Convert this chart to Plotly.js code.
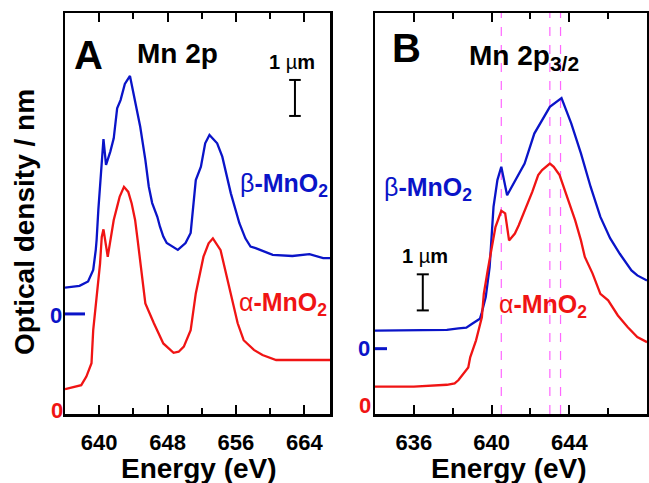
<!DOCTYPE html>
<html>
<head>
<meta charset="utf-8">
<script src="https://cdn.plot.ly/plotly-3.0.1.min.js"></script>
<style>html,body{margin:0;padding:0;background:#fff;}</style>
</head>
<body>
<div id="chart" style="width:649px;height:483px;"></div>
<script>
// ---- Panel A: Mn 2p ----
const energyA_beta = [636.0, 637.7, 638.7, 639.3, 639.6, 639.7, 639.9, 640.2, 640.5, 640.8, 641.3, 641.7, 642.1, 642.5, 643.0, 643.6, 644.1, 644.8, 645.4, 645.8, 646.2, 646.8, 647.1, 647.5, 647.9, 649.2, 650.1, 650.7, 651.3, 651.9, 652.4, 652.9, 653.8, 654.4, 655.4, 656.4, 657.1, 657.7, 658.3, 660.3, 662.6, 664.6, 666.2, 667.0];
const odA_beta = [0.73, 0.78, 0.90, 1.22, 1.78, 2.06, 2.89, 3.91, 4.86, 4.14, 4.51, 4.88, 5.71, 5.94, 6.39, 6.61, 6.04, 5.20, 4.28, 3.54, 3.08, 2.70, 2.43, 2.15, 1.97, 1.78, 1.97, 2.25, 3.72, 4.09, 4.74, 4.97, 4.74, 4.37, 3.35, 2.52, 2.10, 1.87, 1.83, 1.64, 1.61, 1.66, 1.55, 1.55];
const energyA_alpha = [636.0, 637.9, 638.5, 639.1, 639.3, 639.7, 640.1, 640.3, 640.5, 641.0, 641.3, 641.7, 642.1, 642.4, 642.9, 643.4, 643.8, 644.2, 644.5, 644.8, 645.4, 646.4, 647.5, 648.7, 649.3, 649.9, 650.7, 651.3, 651.7, 652.2, 652.8, 653.3, 654.2, 655.2, 656.2, 656.9, 658.1, 659.1, 660.7, 667.0];
const odA_alpha = [0.58, 0.69, 0.93, 1.30, 2.22, 3.15, 4.07, 4.81, 5.02, 4.26, 4.72, 5.28, 5.65, 5.93, 6.20, 6.06, 5.74, 5.28, 4.72, 4.07, 2.96, 2.41, 1.85, 1.59, 1.62, 1.76, 2.22, 3.24, 3.70, 4.26, 4.63, 4.77, 4.44, 3.42, 2.41, 1.94, 1.67, 1.53, 1.39, 1.39];

// ---- Panel B: Mn 2p3/2 ----
const energyB_beta = [634.0, 636.0, 637.7, 638.3, 638.7, 639.0, 639.4, 639.5, 639.7, 639.9, 640.1, 640.3, 640.5, 640.8, 641.3, 641.7, 642.2, 642.6, 643.0, 643.6, 644.1, 644.6, 645.1, 645.6, 646.1, 646.6, 647.2, 647.5, 648.0];
const odB_beta = [0.50, 0.50, 0.52, 0.56, 0.58, 0.69, 0.83, 1.01, 1.43, 2.26, 3.93, 4.67, 5.04, 4.25, 4.76, 5.13, 5.96, 6.33, 6.70, 6.94, 6.24, 5.41, 4.48, 3.65, 3.06, 2.63, 2.17, 2.03, 1.89];
const energyB_alpha = [634.0, 636.0, 637.7, 638.1, 638.3, 638.6, 638.8, 638.9, 639.2, 639.5, 639.6, 639.8, 640.0, 640.2, 640.5, 640.7, 640.9, 641.2, 641.4, 641.8, 642.1, 642.4, 642.6, 643.0, 643.2, 643.5, 643.9, 644.3, 644.6, 644.8, 645.2, 645.6, 646.0, 646.5, 647.0, 647.5, 648.0];
const odB_alpha = [0.53, 0.53, 0.58, 0.62, 0.71, 0.93, 1.06, 1.34, 1.81, 2.45, 3.10, 3.75, 4.31, 4.95, 5.40, 5.33, 4.58, 4.77, 5.00, 5.51, 5.93, 6.39, 6.53, 6.71, 6.62, 6.39, 5.79, 5.14, 4.58, 4.12, 3.66, 3.10, 2.92, 2.50, 2.18, 1.90, 1.76];

const markerEnergiesB = [640.5, 643.0, 643.55];

const ticksA = [640, 648, 656, 664];
const ticksB = [636, 640, 644];

// vertical offsets of the beta-MnO2 curves (their zero levels)
const offsetA = 2.67;
const offsetB = 1.58;

const BLUE = '#0a14c8';
const RED = '#f01414';
const FONT = 'Liberation Sans, Arial, Helvetica, sans-serif';
const W = 649, H = 483;
const px = x => x / W;
const py = y => 1 - y / H;

const traces = [
  {x: energyA_beta, y: odA_beta.map(v => v + offsetA), xaxis: 'x', yaxis: 'y', mode: 'lines', line: {color: BLUE, width: 2.3}},
  {x: energyA_alpha, y: odA_alpha, xaxis: 'x', yaxis: 'y', mode: 'lines', line: {color: RED, width: 2.3}},
  {x: energyB_beta, y: odB_beta.map(v => v + offsetB), xaxis: 'x2', yaxis: 'y2', mode: 'lines', line: {color: BLUE, width: 2.3}},
  {x: energyB_alpha, y: odB_alpha, xaxis: 'x2', yaxis: 'y2', mode: 'lines', line: {color: RED, width: 2.3}}
];

const xCommon = {
  showline: true, linecolor: '#000', linewidth: 2.5, mirror: 'ticks',
  ticks: 'inside', ticklen: 9, tickwidth: 2, tickcolor: '#000',
  showgrid: false, zeroline: false, ticklabelstandoff: 7,
  tickfont: {family: FONT, size: 22, color: '#000', weight: 'bold'}
};
const yCommon = {
  showline: true, linecolor: '#000', linewidth: 2.5, mirror: true,
  ticks: '', showticklabels: false, showgrid: false, zeroline: false
};

const yDom = [1 - 414 / H, 1 - 13 / H];

const shapes = [];
markerEnergiesB.forEach(e => shapes.push({
  type: 'line', xref: 'x2', yref: 'y2 domain', x0: e, x1: e, y0: 0, y1: 1,
  line: {color: '#ff66ff', width: 1.2, dash: 'dash'}, layer: 'below'
}));
// zero markers for beta curves
shapes.push({type: 'line', xref: 'x domain', yref: 'y', x0: 0, x1: 20 / 265, y0: offsetA, y1: offsetA, line: {color: BLUE, width: 3}});
shapes.push({type: 'line', xref: 'x2 domain', yref: 'y2', x0: 0, x1: 12 / 272, y0: offsetB, y1: offsetB, line: {color: BLUE, width: 3}});
// 1 um scale bars
function bar(xr, yr, x, y0, half) {
  shapes.push({type: 'line', xref: xr, yref: yr, x0: x, x1: x, y0: y0, y1: y0 + 1, line: {color: '#000', width: 2}});
  shapes.push({type: 'line', xref: xr, yref: yr, x0: x - half, x1: x + half, y0: y0, y1: y0, line: {color: '#000', width: 2}});
  shapes.push({type: 'line', xref: xr, yref: yr, x0: x - half, x1: x + half, y0: y0 + 1, y1: y0 + 1, line: {color: '#000', width: 2}});
}
bar('x', 'y', 662.9, 8.17, 0.68);
bar('x2', 'y2', 636.46, 2.64, 0.31);

function ann(text, x, y, size, color, extra) {
  return Object.assign({
    text: text, xref: 'paper', yref: 'paper', x: px(x), y: py(y),
    xanchor: 'center', yanchor: 'middle', showarrow: false,
    font: {family: FONT, size: size, color: color || '#000', weight: 'bold'}
  }, extra || {});
}
const nb = s => "<span style='font-weight:normal'>" + s + "</span>";

const annotations = [
  ann('A', 88, 55, 40),
  ann('Mn 2p', 177, 54, 28),
  ann('1 ' + nb('µ') + 'm', 292, 62, 20),
  ann(nb('β') + '-MnO<sub>2</sub>', 284, 185, 25, BLUE),
  ann(nb('α') + '-MnO<sub>2</sub>', 283, 304, 25, RED),
  ann('0', 56, 315, 22, BLUE),
  ann('0', 57, 410, 22, RED),
  ann('B', 406, 48, 40),
  ann("Mn 2p<sub><span style='font-size:21px'>3/2</span></sub>", 467, 57, 28, '#000', {xanchor: 'left'}),
  ann(nb('β') + '-MnO<sub>2</sub>', 428, 189, 25, BLUE),
  ann('1 ' + nb('µ') + 'm', 425, 256, 20),
  ann(nb('α') + '-MnO<sub>2</sub>', 543, 306, 25, RED),
  ann('0', 364, 348, 22, BLUE),
  ann('0', 365, 405, 22, RED),
  ann('Energy (eV)', 199, 468, 28),
  ann('Energy (eV)', 509, 468, 28),
  ann('Optical density / nm', 24, 222, 28, '#000', {textangle: -90})
];

const layout = {
  width: W, height: H,
  margin: {l: 0, r: 0, t: 0, b: 0},
  paper_bgcolor: '#fff', plot_bgcolor: '#fff',
  showlegend: false,
  font: {family: FONT, color: '#000'},
  xaxis: Object.assign({}, xCommon, {domain: [65 / W, 330 / W], range: [636, 667], anchor: 'y',
    tickvals: ticksA, ticktext: ticksA.map(String),
    minor: {dtick: 4, tick0: 636, ticks: 'inside', ticklen: 6, tickwidth: 2, tickcolor: '#000'}}),
  yaxis: Object.assign({}, yCommon, {domain: yDom, range: [-0.11, 11.03], anchor: 'x'}),
  xaxis2: Object.assign({}, xCommon, {domain: [375 / W, 647 / W], range: [634, 648], anchor: 'y2',
    tickvals: ticksB, ticktext: ticksB.map(String),
    minor: {dtick: 2, tick0: 634, ticks: 'inside', ticklen: 6, tickwidth: 2, tickcolor: '#000'}}),
  yaxis2: Object.assign({}, yCommon, {domain: yDom, range: [-0.23, 10.88], anchor: 'x2'}),
  shapes: shapes,
  annotations: annotations
};

Plotly.newPlot('chart', traces, layout, {staticPlot: true, displayModeBar: false});
</script>
</body>
</html>
